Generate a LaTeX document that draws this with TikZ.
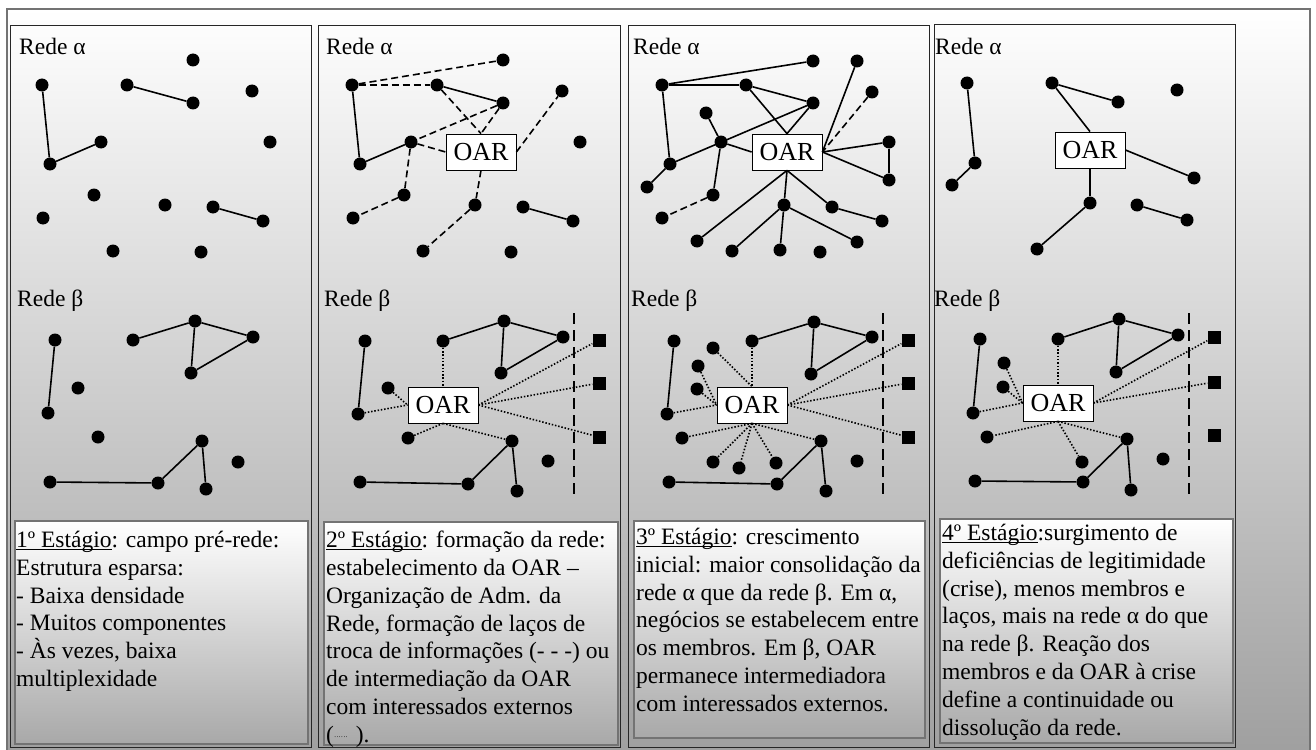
\documentclass[tikz,border=0pt]{standalone}
\usepackage{fontspec}
\setmainfont{Liberation Serif}
% underline kept just under the baseline, independent of descenders
\newcommand\stageul[1]{\setbox0\hbox{#1}\rlap{\rule[-2.6pt]{\wd0}{1.3pt}}\box0}
% small dotted sample used in the stage 2 legend
\newcommand\dottedsample{\raisebox{0.45ex}{\hbox to 16pt{\fontsize{7}{7}\selectfont
  \leaders\hbox to 2.3pt{\hss.\hss}\hfil}}}
\begin{document}
\begin{tikzpicture}[x=1pt,y=-1pt,
  dot/.style={circle,fill=black,inner sep=0pt,minimum size=13pt},
  sq/.style={rectangle,fill=black,inner sep=0pt,minimum size=13pt},
  oar/.style={draw=black,fill=white,line width=0.8pt,inner sep=0pt,
    minimum width=70pt,minimum height=36pt,font=\fontsize{26}{28}\selectfont},
  tie/.style={line width=1.6pt},
  infotie/.style={line width=1.6pt,dash pattern=on 7pt off 4pt},
  brokertie/.style={line width=1.6pt,dash pattern=on 1.5pt off 1.8pt},
  frontier/.style={line width=1.3pt,dash pattern=on 11pt off 6pt},
  panel/.style={draw=black!85,line width=0.9pt},
  stagebox/.style={draw=black!55,line width=2.4pt,shading=axis,
    top color=white,bottom color=gray!68},
  txt/.style={anchor=north west,inner sep=0pt,align=left,
    font=\fontsize{23.5}{27.8}\selectfont},
  lbl/.style={anchor=base west,inner sep=0pt,font=\fontsize{23.5}{27.6}\selectfont}]

\useasboundingbox (0,0) rectangle (1316,749);

% background frame
\path[shading=axis,top color=white,bottom color=gray!75] (7,9) rectangle (1310,752);
\draw[draw=black!55,line width=2pt] (7,9) rectangle (1310,752);

% the four stage panels
\draw[panel] (10,25) rectangle (311,747);
\draw[panel] (318,25) rectangle (620,747);
\draw[panel] (628,25) rectangle (929,747);
\draw[panel] (934,24) rectangle (1235,747);

% network labels
\foreach \x in {19,326,633,935} \node[lbl] at (\x,55) {Rede α};
\foreach \x in {17,324,631,934} \node[lbl] at (\x,306) {Rede β};

% ---------------- stage 1 ----------------
\foreach \n/\x/\y in {A1/42/85,A2/50/164,A3/101/142,A4/127/85,A5/193/103,A6/193/60,
  A7/252/91,A8/270/142,A9/94/195,A10/43/218,A11/165/205,A12/213/207,A13/263/221,
  A14/113/251,A15/201/252}
  \node[dot] (\n) at (\x,\y) {};
\foreach \u/\v in {A1/A2,A2/A3,A4/A5,A12/A13} \draw[tie] (\u) -- (\v);

\foreach \n/\x/\y in {E1/55/340,E2/48/413,E3/78/388,E4/133/340,E5/195/321,E6/253/337,
  E7/191/373,E8/98/437,E9/50/482,E10/158/483,E11/202/441,E12/206/489,E13/238/462}
  \node[dot] (\n) at (\x,\y) {};
\foreach \u/\v in {E1/E2,E4/E5,E5/E6,E5/E7,E7/E6,E9/E10,E10/E11,E11/E12}
  \draw[tie] (\u) -- (\v);

% ---------------- stage 2 ----------------
\foreach \n/\x/\y in {B1/352/85,B2/360/164,B3/411/142,B4/437/85,B5/503/103,B6/503/60,
  B7/562/91,B8/580/142,B9/404/195,B10/353/218,B11/475/205,B12/523/207,B13/573/221,
  B14/423/251,B15/511/252}
  \node[dot] (\n) at (\x,\y) {};
\node[oar] (OB) at (481,152) {OAR};
\foreach \u/\v in {B1/B2,B2/B3,B4/B5,B12/B13} \draw[tie] (\u) -- (\v);
\foreach \u/\v in {B1/B6,B1/B4,B4/OB.north,B5/OB.north,B5/B3,B3/OB.west,OB.east/B7,
  B3/B9,B9/B10,OB.south/B11,B11/B14}
  \draw[infotie] (\u) -- (\v);

\foreach \n/\x/\y in {F1/365/341,F2/358/414,F3/388/388,F4/443/341,F5/504/321,F6/563/337,
  F7/501/373,F8/408/438,F9/360/482,F10/468/484,F11/512/441,F12/517/491,F13/548/461}
  \node[dot] (\n) at (\x,\y) {};
\foreach \n/\y in {FS1/340,FS2/383,FS3/437} \node[sq] (\n) at (599,\y) {};
\coordinate (FB1) at (574,313); \coordinate (FB2) at (574,497);
\draw[frontier] (FB1) -- (FB2);
\node[oar] (OF) at (443,405) {OAR};
\foreach \u/\v in {F1/F2,F4/F5,F5/F6,F5/F7,F7/F6,F9/F10,F10/F11,F11/F12}
  \draw[tie] (\u) -- (\v);
\foreach \u/\v in {F4/OF.north,F3/OF.west,F2/OF.west,OF.south/F8,OF.south/F11,
  OF.east/FS1,OF.east/FS2,OF.east/FS3}
  \draw[brokertie] (\u) -- (\v);

% ---------------- stage 3 ----------------
\foreach \n/\x/\y in {C1/662/85,C2/670/164,C3/721/142,C4/746/85,C5/813/103,C6/813/61,
  C7/872/92,C8/889/142,C9/713/195,C10/662/218,C11/784/205,C12/832/207,C13/882/221,
  C14/732/251,C15/820/252,C16/706/113,C17/647/187,C18/857/61,C19/889/180,
  C20/697/241,C21/780/250,C22/857/242}
  \node[dot] (\n) at (\x,\y) {};
\node[oar] (OC) at (787,152) {OAR};
\foreach \u/\v in {C1/C6,C1/C4,C1/C2,C17/C2,C2/C5,C16/C3,C3/C9,C3/OC.west,C4/OC.north,
  C4/C5,C5/OC.north,C18/OC.east,OC.east/C8,OC.east/C19,C8/C19,OC.south/C20,
  OC.south/C11,OC.south/C12,C11/C21,C11/C14,C11/C22,C12/C13}
  \draw[tie] (\u) -- (\v);
\foreach \u/\v in {C9/C10,C7/OC.east} \draw[infotie] (\u) -- (\v);

\foreach \n/\x/\y in {G1/674/341,G2/667/414,G3/697/389,G4/752/341,G5/814/322,G6/872/337,
  G7/811/374,Ga/713/348,Gb/698/366,Gc/682/438,Gd/713/462,Ge/739/468,Gf/776/463,
  G11/821/441,G13/857/461,G9/669/482,G10/777/484,G12/826/491}
  \node[dot] (\n) at (\x,\y) {};
\foreach \n/\y in {GS1/340,GS2/383,GS3/437} \node[sq] (\n) at (908,\y) {};
\coordinate (GB1) at (883,313); \coordinate (GB2) at (883,497);
\draw[frontier] (GB1) -- (GB2);
\node[oar] (OG) at (752,405) {OAR};
\foreach \u/\v in {G1/G2,G4/G5,G5/G6,G5/G7,G7/G6,G9/G10,G10/G11,G11/G12}
  \draw[tie] (\u) -- (\v);
\foreach \u/\v in {G4/OG.north,Ga/OG.north,Gb/OG.west,G3/OG.west,G2/OG.west,
  OG.south/Gc,OG.south/Gd,OG.south/Ge,OG.south/Gf,OG.south/G11,
  OG.east/GS1,OG.east/GS2,OG.east/GS3}
  \draw[brokertie] (\u) -- (\v);

% ---------------- stage 4 ----------------
\foreach \n/\x/\y in {D1/967/83,D2/975/163,D3/952/185,D4/1052/83,D5/1118/102,
  D6/1177/90,D7/1194/178,D8/1090/203,D9/1037/249,D10/1137/205,D11/1187/220}
  \node[dot] (\n) at (\x,\y) {};
\node[oar] (OD) at (1090,150) {OAR};
\foreach \u/\v in {D1/D2,D2/D3,D4/D5,D4/OD.north,OD.east/D7,OD.south/D8,D8/D9,D10/D11}
  \draw[tie] (\u) -- (\v);

\foreach \n/\x/\y in {H1/980/339,H2/973/413,Ha/1004/363,H3/1003/387,H4/1058/339,
  H5/1119/319,H6/1178/335,H7/1116/372,Hb/987/437,Hc/1082/462,H11/1127/439,
  H13/1163/459,H9/975/481,H10/1083/482,H12/1131/490}
  \node[dot] (\n) at (\x,\y) {};
\foreach \n/\y in {HS1/337,HS2/382,HS3/435} \node[sq] (\n) at (1214,\y) {};
\coordinate (HB1) at (1189,313); \coordinate (HB2) at (1189,495);
\draw[frontier] (HB1) -- (HB2);
\node[oar] (OH) at (1058,403) {OAR};
\foreach \u/\v in {H1/H2,H4/H5,H5/H6,H5/H7,H7/H6,H9/H10,H10/H11,H11/H12}
  \draw[tie] (\u) -- (\v);
\foreach \u/\v in {H4/OH.north,Ha/OH.west,H3/OH.west,H2/OH.west,
  OH.south/Hb,OH.south/Hc,OH.south/H11,OH.east/HS1,OH.east/HS2}
  \draw[brokertie] (\u) -- (\v);

% ---------------- stage descriptions ----------------
\path[stagebox] (15,521) rectangle (308,744);
\path[stagebox] (324,522) rectangle (618,745);
\path[stagebox] (634,521) rectangle (925,738);
\path[stagebox] (940,519) rectangle (1233,743);

\node[txt] (T1) at (16,531) {\stageul{1º Estágio}: campo pré-rede:\\
  Estrutura esparsa:\\- Baixa densidade\\- Muitos componentes\\
  - Às vezes, baixa\\multiplexidade};
\node[txt] (T2) at (326,531) {\stageul{2º Estágio}: formação da rede:\\
  estabelecimento da OAR –\\Organização de Adm. da\\
  Rede, formação de laços de\\troca de informações (- - -) ou\\
  de intermediação da OAR\\com interessados externos\\
  (\dottedsample\ ).};
\node[txt] (T3) at (636,528) {\stageul{3º Estágio}: crescimento\\
  inicial: maior consolidação da\\rede α que da rede β. Em α,\\
  negócios se estabelecem entre\\os membros. Em β, OAR\\
  permanece intermediadora\\com interessados externos.};
\node[txt] (T4) at (942,524) {\stageul{4º Estágio}:surgimento de\\
  deficiências de legitimidade\\(crise), menos membros e\\
  laços, mais na rede α do que\\na rede β. Reação dos\\
  membros e da OAR à crise\\define a continuidade ou\\dissolução da rede.};
\end{tikzpicture}
\end{document}
